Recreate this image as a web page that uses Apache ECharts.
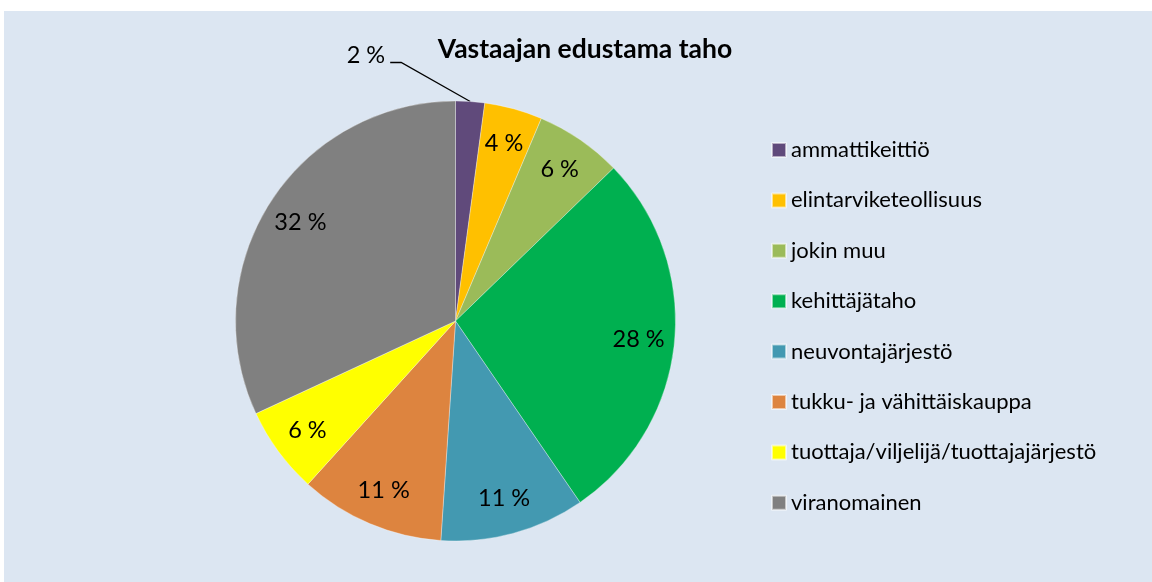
<!DOCTYPE html>
<html>
<head>
<meta charset="utf-8">
<script src="https://cdn.jsdelivr.net/npm/echarts@6/dist/echarts.min.js"></script>
<style>
html,body{margin:0;padding:0;background:#ffffff;width:1152px;height:582px;overflow:hidden;}
#chart{position:absolute;left:4px;top:11px;width:1148px;height:571px;background:#dce6f2;}
</style>
</head>
<body>
<div id="chart"></div>
<script>
const titleText = 'Vastaajan edustama taho';
const categories = ['ammattikeittiö', 'elintarviketeollisuus', 'jokin muu', 'kehittäjätaho', 'neuvontajärjestö', 'tukku- ja vähittäiskauppa', 'tuottaja/viljelijä/tuottajajärjestö', 'viranomainen'];
const counts = [1, 2, 3, 13, 5, 5, 3, 15];
const colors = ['#604a7b', '#ffc000', '#9bbb59', '#00b050', '#4399b1', '#dd843f', '#ffff00', '#808080'];

const FONT = 'Lato, "Liberation Sans", sans-serif';
const chart = echarts.init(document.getElementById('chart'), null, {renderer: 'canvas'});

const mainData = categories.map((name, i) => {
  const item = {name: name, value: counts[i], itemStyle: {color: colors[i]}};
  if (i === 0) {
    item.label = {show: true, position: 'outside'};
    item.labelLine = {show: true};
  }
  return item;
});
const labelData = categories.map((name, i) => ({
  name: name, value: counts[i],
  label: {show: i !== 0}
}));

chart.setOption({
  animation: false,
  backgroundColor: '#dce6f2',
  title: {
    text: titleText,
    left: 581, top: 25, textAlign: 'center', padding: 0,
    textStyle: {fontFamily: FONT, fontSize: 26.5, fontWeight: 'bold', color: '#000'}
  },
  legend: {
    orient: 'vertical', left: 767, top: 128, padding: 0,
    itemWidth: 14, itemHeight: 14, itemGap: 28.4,
    icon: 'rect',
    selectedMode: false,
    data: categories,
    textStyle: {fontFamily: FONT, fontSize: 22, lineHeight: 22, color: '#000'}
  },
  series: [
    {
      type: 'pie',
      center: [451.5, 310],
      radius: [0, 220],
      startAngle: 90,
      clockwise: true,
      percentPrecision: 0,
      avoidLabelOverlap: false,
      silent: true,
      itemStyle: {borderColor: 'rgba(255,255,255,0.55)', borderWidth: 0.6},
      label: {show: false, formatter: '{d} %', fontFamily: FONT, fontSize: 23.5, color: '#000'},
      labelLine: {show: false, length: 30, length2: 10, smooth: false, lineStyle: {color: '#000', width: 1.3}},
      labelLayout: function (params) {
        if (params.dataIndex !== 0) return {};
        const pts = params.labelLinePoints;
        if (!pts) return {};
        const a = pts[0];
        return {
          x: a[0] - 85, y: a[1] - 46, align: 'right', verticalAlign: 'middle',
          labelLinePoints: [[a[0], a[1]], [a[0] - 69, a[1] - 39], [a[0] - 80, a[1] - 39]]
        };
      },
      emphasis: {disabled: true},
      data: mainData
    },
    {
      type: 'pie',
      center: [451.5, 310],
      radius: [0, 362],
      startAngle: 90,
      clockwise: true,
      percentPrecision: 0,
      avoidLabelOverlap: false,
      silent: true,
      z: 5,
      itemStyle: {color: 'rgba(0,0,0,0)', borderWidth: 0},
      label: {show: true, position: 'inside', formatter: '{d} %', fontFamily: FONT, fontSize: 23.5, color: '#000'},
      labelLine: {show: false},
      emphasis: {disabled: true},
      data: labelData
    }
  ]
});
</script>
</body>
</html>
